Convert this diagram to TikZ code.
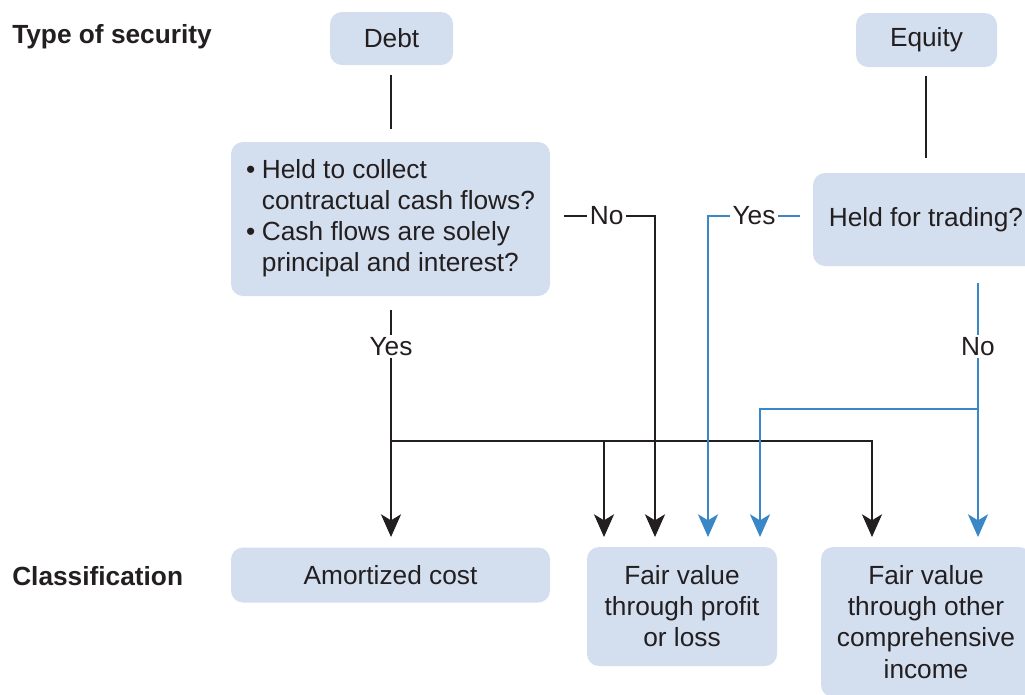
\documentclass[tikz,border=0pt]{standalone}
\usepackage{fontspec}
\setmainfont{Liberation Sans}
\usetikzlibrary{arrows.meta}
\definecolor{boxfill}{HTML}{D3DEEF}
\definecolor{lineblue}{HTML}{3A87C8}
\definecolor{lineblack}{HTML}{231F20}
\begin{document}
\begin{tikzpicture}[x=0.75pt,y=-0.75pt,
  every node/.style={font=\fontsize{19.7}{23.3}\selectfont, text=lineblack},
  box/.style={fill=boxfill, rounded corners=9pt, inner sep=0pt, align=center},
  head/.style={font=\fontsize{19.7}{23.3}\selectfont\bfseries, anchor=west, inner sep=0pt},
  conn/.style={line width=1.6pt, draw=lineblack},
  bconn/.style={line width=1.6pt, draw=lineblue},
  tip/.style={-{Stealth[length=17pt,width=15pt,inset=4.5pt]}},
  lab/.style={fill=white, inner sep=2pt}]
\useasboundingbox (0,0) rectangle (1025,694);
\clip (0,0) rectangle (1025,694);
% headings
\node[head] (ht) at (12,37) {Type of security};
\node[head] (hc) at (12,576) {Classification};
% boxes
\node[box, minimum width=92.25pt, minimum height=39.75pt] (debt) at (391.5,38.5) {Debt};
\node[box, minimum width=105.75pt, minimum height=40.5pt] (equity) at (926.5,40) {Equity};
\node[box, minimum width=239.25pt, minimum height=115.5pt] (q) at (390.5,219) {};
\node[inner sep=0pt, align=left] (qt) at (390.5,218.5) {%
  \begin{tabular}{@{}l@{\hspace{5pt}}l@{}}
  • & Held to collect\\
    & contractual cash flows?\\
  • & Cash flows are solely\\
    & principal and interest?
  \end{tabular}};
\node[box, minimum width=169.5pt, minimum height=69.75pt] (hft) at (926,219.5) {Held for trading?};
\node[box, minimum width=239.25pt, minimum height=41.25pt] (ac) at (390.5,575) {Amortized cost};
\node[box, minimum width=142.5pt, minimum height=89.25pt] (fvpl) at (682,606.5) {Fair value\\through profit\\or loss};
\node[box, minimum width=157.5pt, minimum height=112.5pt] (fvoci) at (926,622) {Fair value\\through other\\comprehensive\\income};
% coordinates
\coordinate (d1) at (391,75);
\coordinate (d2) at (391,129);
\coordinate (e1) at (926,76);
\coordinate (e2) at (926,158);
\coordinate (y0) at (391,310);
\coordinate (yh) at (391,441);
\coordinate (ya) at (391,537);
\coordinate (ra) at (872,537);
\coordinate (pa) at (604,537);
\coordinate (n0) at (564,216);
\coordinate (n1) at (655,216);
\coordinate (na) at (655,537);
\coordinate (by0) at (800,216);
\coordinate (by1) at (708,216);
\coordinate (bya) at (708,537);
\coordinate (bn0) at (978,283);
\coordinate (bnh) at (978,409);
\coordinate (bna) at (978,537);
\coordinate (bn1) at (760,409);
\coordinate (bn2) at (760,537);
% connectors
\draw[conn] (d1) -- (d2);
\draw[conn] (e1) -- (e2);
\draw[conn, tip] (y0) -- node[lab, pos=0.16] {Yes} (ya);
\draw[conn, tip] (yh) -| (ra);
\draw[conn, tip] (yh -| pa) -- (pa);
\draw[conn, tip] (n0) -- node[lab, pos=0.47] {No} (n1) -- (na);
\draw[bconn, tip] (by0) -- node[lab, pos=0.5, text=lineblack] {Yes} (by1) -- (bya);
\draw[bconn, tip] (bn0) -- node[lab, pos=0.25, text=lineblack] {No} (bna);
\draw[bconn, tip] (bnh) -- (bn1) -- (bn2);
\end{tikzpicture}
\end{document}
